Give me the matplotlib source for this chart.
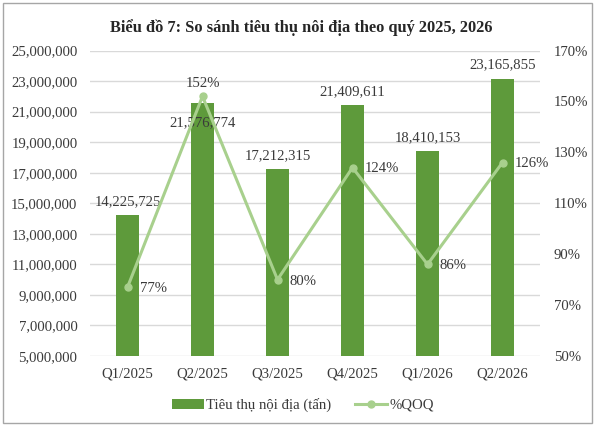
import matplotlib
matplotlib.use("Agg")
import matplotlib.pyplot as plt
from matplotlib.patches import Rectangle
from matplotlib.ticker import FuncFormatter
import numpy as np

categories = ["Q1/2025", "Q2/2025", "Q3/2025", "Q4/2025", "Q1/2026", "Q2/2026"]
consumption = [14225725, 21576774, 17212315, 21409611, 18410153, 23165855]
qoq_pct = [77, 152, 80, 124, 86, 126]
left_ticks = [5000000, 7000000, 9000000, 11000000, 13000000, 15000000,
              17000000, 19000000, 21000000, 23000000, 25000000]
right_ticks = [50, 70, 90, 110, 130, 150, 170]
title = "Biểu đồ 7: So sánh tiêu thụ nôi địa theo quý 2025, 2026"
bar_label_name = "Tiêu thụ nội địa (tấn)"
line_label_name = "%QOQ"

FONT = "Liberation Serif"
FS = 10.6
plt.rcParams["font.family"] = [FONT, "DejaVu Serif", "DejaVu Sans"]
BAR_C = "#5E9A3B"
LINE_C = "#A8D08D"
TXT_C = "#3A3A3A"
GRID_C = "#D9D9D9"

fig = plt.figure(figsize=(6.0, 4.28), dpi=100)
ax = fig.add_axes([90 / 600, (428 - 356) / 428, 450 / 600, (356 - 50.5) / 428])

x = np.arange(len(categories))
bars = ax.bar(x, consumption, width=0.31, color=BAR_C, zorder=2, label=bar_label_name)
ax.set_xlim(-0.5, len(categories) - 0.5)
ax.set_ylim(left_ticks[0], left_ticks[-1])
ax.set_yticks(left_ticks)
ax.yaxis.set_major_formatter(FuncFormatter(lambda v, p: f"{int(round(v)):,}"))
ax.grid(axis="y", color=GRID_C, linewidth=1.0, zorder=0)
ax.set_axisbelow(True)
for s in ax.spines.values():
    s.set_visible(False)
ax.tick_params(axis="both", length=0, labelsize=FS, colors=TXT_C)
ax.tick_params(axis="x", pad=8)
ax.tick_params(axis="y", pad=9)
ax.set_xticks(x)
ax.set_xticklabels(categories)

ax2 = ax.twinx()
ax2.set_ylim(right_ticks[0], right_ticks[-1])
ax2.set_yticks(right_ticks)
ax2.yaxis.set_major_formatter(FuncFormatter(lambda v, p: f"{int(round(v))}%"))
for s in ax2.spines.values():
    s.set_visible(False)
ax2.tick_params(axis="y", length=0, labelsize=FS, colors=TXT_C, pad=10)
line, = ax2.plot(x, qoq_pct, color=LINE_C, linewidth=2.2, marker="o",
                 markersize=5, zorder=3, label=line_label_name)

# bar data labels
for i, v in enumerate(consumption):
    if i == 1:
        ax.annotate(f"{v:,}", (x[i], v), xytext=(0, -14), textcoords="offset points",
                    ha="center", va="center", fontsize=FS, color=TXT_C, zorder=5)
    else:
        ax.annotate(f"{v:,}", (x[i], v), xytext=(0, 10), textcoords="offset points",
                    ha="center", va="center", fontsize=FS, color=TXT_C, zorder=5)

# line data labels
for i, v in enumerate(qoq_pct):
    if i == 1:
        ax2.annotate(f"{v}%", (x[i], v), xytext=(0, 9.5), textcoords="offset points",
                     ha="center", va="center", fontsize=FS, color=TXT_C, zorder=6)
    else:
        ax2.annotate(f"{v}%", (x[i], v), xytext=(9, -1), textcoords="offset points",
                     ha="left", va="center", fontsize=FS, color=TXT_C, zorder=6)

fig.text(301 / 600, 1 - 27.5 / 428, title, ha="center", va="center",
         fontsize=11.8, fontweight="bold", color="#262626")

fig.legend([bars, line], [bar_label_name, line_label_name], loc="center",
           bbox_to_anchor=(303 / 600, 1 - 405 / 428), ncol=2, frameon=False,
           fontsize=FS, handlelength=2.2, handletextpad=0.15, columnspacing=1.6,
           labelcolor=TXT_C)

fig.patches.append(Rectangle((3 / 600, 1 - 423 / 428), 589 / 600, 420 / 428,
                             transform=fig.transFigure, fill=False,
                             edgecolor="#A6A6A6", linewidth=1.0))

fig.savefig("out.png", dpi=100, facecolor="white")
